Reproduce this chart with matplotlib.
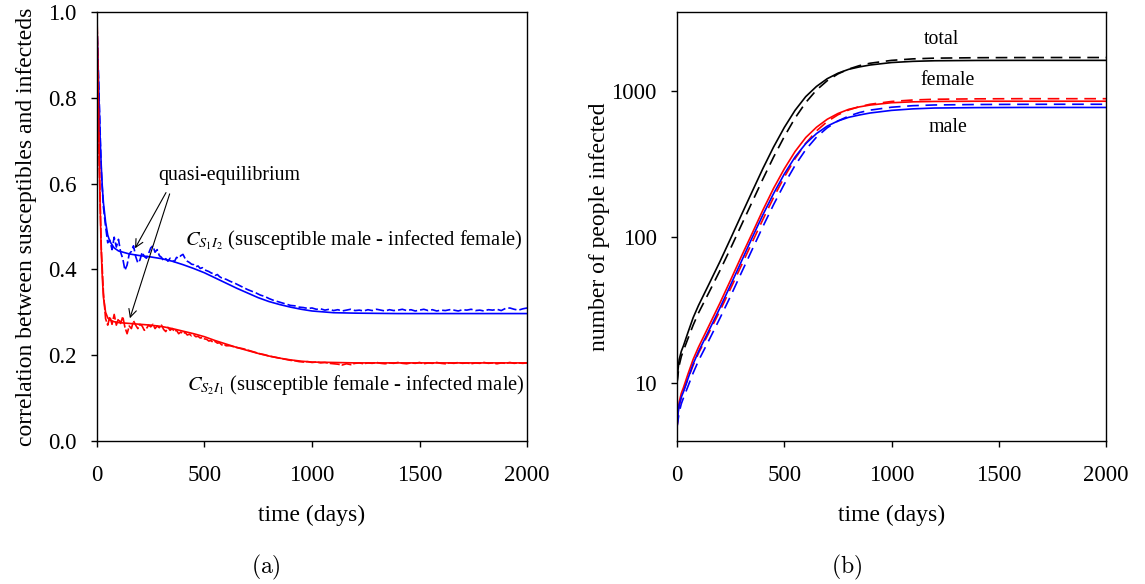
import matplotlib
matplotlib.use("Agg")
import matplotlib.pyplot as plt
from matplotlib.ticker import NullLocator

plt.rcParams['font.family'] = ['Liberation Serif', 'DejaVu Serif']
plt.rcParams['mathtext.fontset'] = 'stix'

# ---- panel (a): correlations ----
t_model = [0, 5, 10, 15, 20, 25, 30, 40, 50, 60, 80, 100, 150, 200, 250, 300, 350, 400,
           450, 500, 550, 600, 650, 700, 750, 800, 850, 900, 950, 1000, 1100, 1200,
           1400, 1600, 1800, 2000]
c_s1i2_model = [0.96, 0.88, 0.79, 0.70, 0.64, 0.59, 0.555, 0.51, 0.48, 0.465, 0.45, 0.443,
                0.436, 0.432, 0.429, 0.425, 0.419, 0.411, 0.402, 0.392, 0.38, 0.368, 0.356,
                0.345, 0.334, 0.325, 0.318, 0.312, 0.307, 0.303, 0.299, 0.298, 0.297, 0.297,
                0.297, 0.297]
c_s2i1_model = [1.0, 0.82, 0.67, 0.54, 0.44, 0.38, 0.335, 0.30, 0.287, 0.282, 0.278, 0.276,
                0.274, 0.272, 0.27, 0.267, 0.262, 0.256, 0.25, 0.243, 0.234, 0.226, 0.218,
                0.211, 0.204, 0.198, 0.193, 0.189, 0.186, 0.184, 0.183, 0.182, 0.182, 0.182,
                0.182, 0.182]

t_sim = list(range(0, 600, 10)) + list(range(600, 2001, 20))
c_s1i2_sim = [
    0.97, 0.80, 0.63, 0.545, 0.50, 0.462, 0.468, 0.446, 0.475, 0.452,
    0.47, 0.44, 0.425, 0.398, 0.41, 0.436, 0.442, 0.455, 0.43, 0.415,
    0.422, 0.44, 0.43, 0.426, 0.437, 0.45, 0.455, 0.44, 0.446, 0.432,
    0.428, 0.42, 0.425, 0.419, 0.426, 0.421, 0.418, 0.428, 0.426, 0.432,
    0.435, 0.425, 0.419, 0.416, 0.412, 0.411, 0.406, 0.408, 0.402, 0.404,
    0.399, 0.397, 0.395, 0.392, 0.39, 0.386, 0.388, 0.383, 0.38, 0.378,
    0.377,
    0.372, 0.368, 0.363, 0.358, 0.353, 0.349, 0.345, 0.34, 0.337, 0.332,
    0.328, 0.325, 0.322, 0.319, 0.316, 0.315, 0.312, 0.311, 0.309, 0.31,
    0.307, 0.308, 0.305, 0.307, 0.304, 0.306, 0.303, 0.305, 0.307, 0.304,
    0.305, 0.303, 0.306, 0.304, 0.307, 0.305, 0.303, 0.306, 0.304, 0.305,
    0.307, 0.304, 0.306, 0.303, 0.305, 0.307, 0.304, 0.306, 0.303, 0.305,
    0.304, 0.306, 0.305, 0.303, 0.306, 0.305, 0.307, 0.304, 0.305, 0.303,
    0.306, 0.305, 0.307, 0.304, 0.309, 0.31, 0.307, 0.305, 0.308, 0.31]
c_s2i1_sim = [
    1.0, 0.66, 0.45, 0.345, 0.285, 0.27, 0.29, 0.272, 0.295, 0.27,
    0.285, 0.274, 0.29, 0.265, 0.25, 0.268, 0.262, 0.28, 0.27, 0.262,
    0.272, 0.268, 0.258, 0.262, 0.27, 0.266, 0.272, 0.262, 0.268, 0.264,
    0.27, 0.26, 0.255, 0.265, 0.258, 0.262, 0.255, 0.258, 0.25, 0.254,
    0.25, 0.253, 0.247, 0.249, 0.245, 0.247, 0.243, 0.244, 0.24, 0.241,
    0.238, 0.237, 0.233, 0.234, 0.23, 0.232, 0.228, 0.229, 0.224, 0.226,
    0.222,
    0.222, 0.219, 0.217, 0.215, 0.212, 0.209, 0.206, 0.203, 0.201, 0.198,
    0.196, 0.194, 0.192, 0.19, 0.188, 0.187, 0.185, 0.184, 0.185, 0.183,
    0.184, 0.182, 0.183, 0.181, 0.18, 0.179, 0.177, 0.18, 0.178, 0.181,
    0.182, 0.18, 0.182, 0.181, 0.183, 0.181, 0.18, 0.182, 0.181, 0.183,
    0.181, 0.18, 0.182, 0.181, 0.183, 0.18, 0.182, 0.181, 0.183, 0.181,
    0.18, 0.182, 0.181, 0.183, 0.181, 0.182, 0.18, 0.182, 0.181, 0.183,
    0.181, 0.182, 0.18, 0.182, 0.181, 0.183, 0.181, 0.182, 0.181, 0.182]

# ---- panel (b): number infected ----
t_inf = [0, 5, 10, 20, 30, 50, 75, 100, 150, 200, 250, 300, 350, 400, 450, 500, 550, 600,
         650, 700, 750, 800, 850, 900, 1000, 1100, 1200, 1400, 1600, 1800, 2000]
total_model = [10, 12.5, 14.5, 16.5, 18, 22, 28, 34, 48, 68, 98, 142, 205, 295, 415, 565,
               740, 920, 1080, 1220, 1330, 1415, 1470, 1515, 1575, 1605, 1620, 1628, 1630,
               1630, 1630]
female_model = [5.0, 6.3, 7.4, 8.5, 9.3, 11.4, 14.5, 17.6, 24.9, 35.3, 50.9, 73.8, 106,
                153, 216, 294, 386, 482, 567, 643, 704, 752, 782, 805, 835, 847, 852, 855,
                855, 855, 855]
male_model = [5.0, 6.2, 7.1, 8.0, 8.7, 10.6, 13.5, 16.4, 23.1, 32.7, 47.1, 68.2, 99, 142,
              199, 271, 354, 438, 513, 577, 626, 663, 688, 710, 740, 758, 768, 773, 775,
              775, 775]
total_sim = [10, 11.6, 13.2, 15.2, 16.7, 20, 24.9, 30.2, 42.1, 59, 84, 121, 174, 250, 354,
             489, 655, 838, 1020, 1182, 1316, 1421, 1500, 1558, 1630, 1669, 1688, 1700,
             1704, 1705, 1705]
female_sim = [5.0, 6.0, 6.9, 8.0, 8.8, 10.6, 13.2, 16.0, 22.3, 31.2, 44.5, 64, 92, 132,
              187, 258, 345, 440, 535, 620, 690, 745, 785, 815, 852, 872, 882, 888, 890,
              890, 890]
male_sim = [5.0, 5.6, 6.3, 7.2, 7.9, 9.4, 11.7, 14.2, 19.8, 27.8, 39.5, 57, 82, 118, 167,
            231, 310, 398, 485, 562, 626, 676, 715, 743, 778, 797, 806, 812, 814, 815, 815]

BLUE = '#0000ff'
RED = '#ff0000'
FS_TICK = 16.5
FS_LAB = 17
FS_ANN = 14.3

fig = plt.figure(figsize=(11.45, 5.84), dpi=100)
ax1 = fig.add_axes([0.0847, 0.2449, 0.3756, 0.7346])
ax2 = fig.add_axes([0.5913, 0.2449, 0.3747, 0.7346])

for ax in (ax1, ax2):
    for s in ax.spines.values():
        s.set_linewidth(1.0)
    ax.tick_params(direction='out', length=4.5, width=1.0, labelsize=FS_TICK,
                   top=False, right=False)
    ax.tick_params(axis='x', pad=12.5)
    ax.tick_params(axis='y', pad=10)
    ax.set_xlim(0, 2000)
    ax.set_xticks([0, 500, 1000, 1500, 2000])
    ax.set_xlabel('time (days)', fontsize=FS_LAB, labelpad=14)

# panel (a)
ax1.plot(t_sim, c_s1i2_sim, color=BLUE, lw=1.2, ls=(0, (5, 1.8)))
ax1.plot(t_model, c_s1i2_model, color=BLUE, lw=1.2)
ax1.plot(t_sim, c_s2i1_sim, color=RED, lw=1.2, ls=(0, (6, 1.2)))
ax1.plot(t_model, c_s2i1_model, color=RED, lw=1.2)
ax1.set_ylim(0, 1.0)
ax1.set_yticks([0, 0.2, 0.4, 0.6, 0.8, 1.0])
ax1.set_yticklabels(['0.0', '0.2', '0.4', '0.6', '0.8', '1.0'])
ax1.set_ylabel('correlation between susceptibles and infecteds', fontsize=FS_LAB,
               labelpad=8)

ax1.text(615, 0.618, 'quasi-equilibrium', fontsize=FS_ANN, ha='center', va='center')
arrow = dict(arrowstyle='->', lw=0.8, color='black', shrinkA=0, shrinkB=0,
             mutation_scale=14)
ax1.annotate('', xy=(177, 0.449), xytext=(321, 0.579), arrowprops=arrow)
ax1.annotate('', xy=(153, 0.286), xytext=(338, 0.576), arrowprops=arrow)
ax1.text(1980, 0.468, r'$C_{S_1I_2}$ (susceptible male - infected female)',
         fontsize=14.8, ha='right', va='center')
ax1.text(1988, 0.13, r'$C_{S_2I_1}$ (susceptible female - infected male)',
         fontsize=14.8, ha='right', va='center')

# panel (b)
dash = (0, (7, 4))
ax2.plot(t_inf, total_model, color='black', lw=1.2)
ax2.plot(t_inf, total_sim, color='black', lw=1.2, ls=dash)
ax2.plot(t_inf, female_model, color=RED, lw=1.2)
ax2.plot(t_inf, female_sim, color=RED, lw=1.2, ls=dash)
ax2.plot(t_inf, male_model, color=BLUE, lw=1.2)
ax2.plot(t_inf, male_sim, color=BLUE, lw=1.2, ls=dash)
ax2.set_yscale('log')
ax2.set_ylim(4, 3500)
ax2.set_yticks([10, 100, 1000])
ax2.set_yticklabels(['10', '100', '1000'])
ax2.yaxis.set_minor_locator(NullLocator())
ax2.set_ylabel('number of people infected', fontsize=FS_LAB, labelpad=1)
ax2.text(1235, 2276, 'total', fontsize=FS_ANN, ha='center', va='center')
ax2.text(1263, 1190, 'female', fontsize=FS_ANN, ha='center', va='center')
ax2.text(1263, 566, 'male', fontsize=FS_ANN, ha='center', va='center')

fig.text(0.2323, 0.029, r'$\mathrm{(a)}$', fontsize=17, ha='center', va='center',
         math_fontfamily='cm')
fig.text(0.7397, 0.029, r'$\mathrm{(b)}$', fontsize=17, ha='center', va='center',
         math_fontfamily='cm')

fig.savefig('out.png', dpi=100)
